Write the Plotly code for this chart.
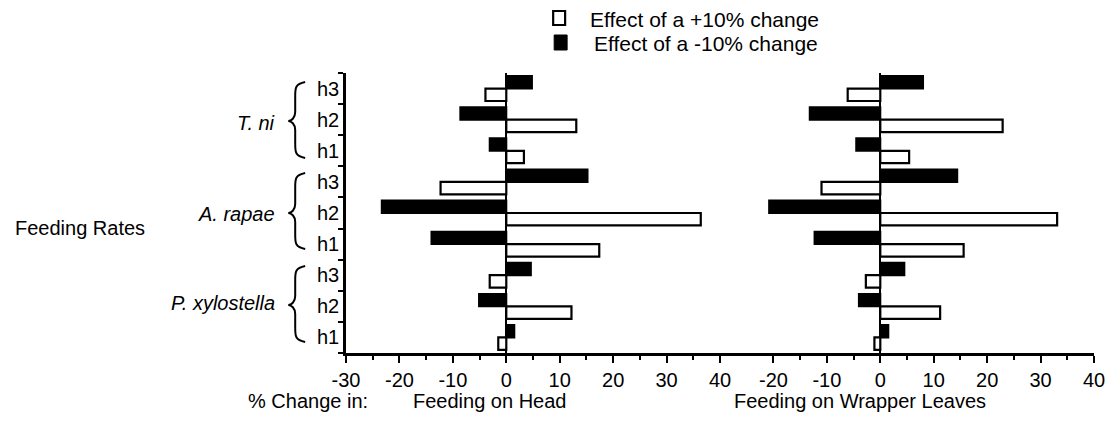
import plotly.graph_objects as go

# ---- data (top to bottom as in the chart) ----
species = ["T. ni", "A. rapae", "P. xylostella"]
levels = ["h3", "h2", "h1"]
categories = [f"{s} {h}" for s in species for h in levels]
tick_labels = [h for s in species for h in levels]

head_plus10 = [-3.9, 13.1, 3.3, -12.3, 36.4, 17.4, -3.1, 12.2, -1.5]
head_minus10 = [4.8, -8.6, -3.1, 15.2, -23.3, -14.0, 4.6, -5.1, 1.5]
wrapper_plus10 = [-6.1, 22.9, 5.4, -11.0, 33.1, 15.6, -2.7, 11.2, -1.1]
wrapper_minus10 = [8.0, -13.2, -4.5, 14.4, -20.8, -12.3, 4.5, -4.0, 1.5]

head_ticks = [-30, -20, -10, 0, 10, 20, 30, 40]
wrapper_ticks = [-20, -10, 0, 10, 20, 30, 40]
head_minor = [-25, -15, -5, 5, 15, 25, 35]
wrapper_minor = [-15, -5, 5, 15, 25, 35]

legend_labels = ["Effect of a +10% change", "Effect of a -10% change"]

FONT = "Liberation Sans, Arial, sans-serif"
W, H = 1117, 422
L, R, T, B = 346, 20, 73, 69
PW, PH = W - L - R, H - T - B


def px(x):
    return (x - L) / PW


def py(y):
    return (H - B - y) / PH


fig = go.Figure()

for xa, minus, plus in [("x", head_minus10, head_plus10),
                        ("x2", wrapper_minus10, wrapper_plus10)]:
    fig.add_trace(go.Bar(
        y=categories, x=minus, orientation="h", xaxis=xa, yaxis="y",
        name=legend_labels[1], showlegend=False,
        marker=dict(color="black", line=dict(color="black", width=2)),
    ))
    fig.add_trace(go.Bar(
        y=categories, x=plus, orientation="h", xaxis=xa, yaxis="y",
        name=legend_labels[0], showlegend=False,
        marker=dict(color="white", line=dict(color="black", width=2.2)),
    ))

axis_common = dict(
    range=[-30, 40], showgrid=False, showline=True, linecolor="black", linewidth=2.5,
    ticks="outside", ticklen=7, tickwidth=2, tickcolor="black",
    zeroline=True, zerolinecolor="black", zerolinewidth=2,
    tickfont=dict(family=FONT, size=20, color="black"), anchor="y",
)

fig.update_layout(
    width=W, height=H,
    margin=dict(l=L, r=R, t=T, b=B),
    paper_bgcolor="white", plot_bgcolor="white",
    barmode="group", bargap=0.2, bargroupgap=0,
    font=dict(family=FONT, size=20, color="black"),
    xaxis=dict(domain=[0, 0.5], tickmode="array", tickvals=head_ticks,
               ticktext=[str(v) for v in head_ticks],
               minor=dict(tickmode="array", tickvals=head_minor, ticks="outside",
                          ticklen=4, tickwidth=2, tickcolor="black"),
               **axis_common),
    xaxis2=dict(domain=[0.5, 1], tickmode="array", tickvals=wrapper_ticks,
                ticktext=[str(v) for v in wrapper_ticks],
                minor=dict(tickmode="array", tickvals=wrapper_minor, ticks="outside",
                           ticklen=4, tickwidth=2, tickcolor="black"),
                **axis_common),
    yaxis=dict(type="category", categoryorder="array", categoryarray=categories,
               range=[len(categories) - 0.5, -0.5],
               tickmode="array", tickvals=categories, ticktext=tick_labels,
               tickson="boundaries", ticks="outside", ticklen=5, tickwidth=2,
               tickcolor="black", showline=True, linecolor="black", linewidth=2.5,
               showgrid=False, anchor="x",
               tickfont=dict(family=FONT, size=20, color="black")),
    showlegend=False,
)

annotations = [
    dict(text="Feeding Rates", x=px(12), y=py(228), xanchor="left", yanchor="middle"),
    dict(text="% Change in:", x=px(246), y=py(401), xanchor="left", yanchor="middle"),
    dict(text="Feeding on Head", x=px(411), y=py(401), xanchor="left", yanchor="middle"),
    dict(text="Feeding on Wrapper Leaves", x=px(734), y=py(401), xanchor="left", yanchor="middle"),
    dict(text=legend_labels[0], x=px(589), y=py(19), xanchor="left", yanchor="middle",
         font=dict(family=FONT, size=21, color="black")),
    dict(text=legend_labels[1], x=px(593), y=py(44), xanchor="left", yanchor="middle",
         font=dict(family=FONT, size=21, color="black")),
]
species_y = [123, 214, 303]
for s, yy in zip(species, species_y):
    annotations.append(dict(text=f"<i>{s}</i>", x=px(277), y=py(yy),
                            xanchor="right", yanchor="middle"))
for a in annotations:
    a.update(xref="paper", yref="paper", showarrow=False)
    a.setdefault("font", dict(family=FONT, size=20, color="black"))
fig.update_layout(annotations=annotations)

shapes = []
# legend swatches
shapes.append(dict(type="rect", xref="paper", yref="paper",
                   x0=px(554), x1=px(566), y0=py(11), y1=py(25),
                   fillcolor="white", line=dict(color="black", width=2.2)))
shapes.append(dict(type="rect", xref="paper", yref="paper",
                   x0=px(555), x1=px(568), y0=py(35), y1=py(50),
                   fillcolor="black", line=dict(color="black", width=1)))

# curly braces grouping the h-levels of each species
for (yt, ym, yb) in [(82, 121, 158), (173, 213, 249), (266, 305, 342)]:
    xr, xm, xp = 305, 295, 288
    pts = (f"M{px(xr)},{py(yt)} "
           f"C{px(xm)},{py(yt+2)} {px(xm)},{py(yt+6)} {px(xm)},{py(yt+14)} "
           f"L{px(xm)},{py(ym-9)} "
           f"C{px(xm)},{py(ym-3)} {px(xp+3)},{py(ym)} {px(xp)},{py(ym)} "
           f"C{px(xp+3)},{py(ym)} {px(xm)},{py(ym+3)} {px(xm)},{py(ym+9)} "
           f"L{px(xm)},{py(yb-14)} "
           f"C{px(xm)},{py(yb-6)} {px(xm)},{py(yb-2)} {px(xr)},{py(yb)}")
    shapes.append(dict(type="path", path=pts, xref="paper", yref="paper",
                       line=dict(color="black", width=2)))
fig.update_layout(shapes=shapes)

fig.write_html("out.html")
